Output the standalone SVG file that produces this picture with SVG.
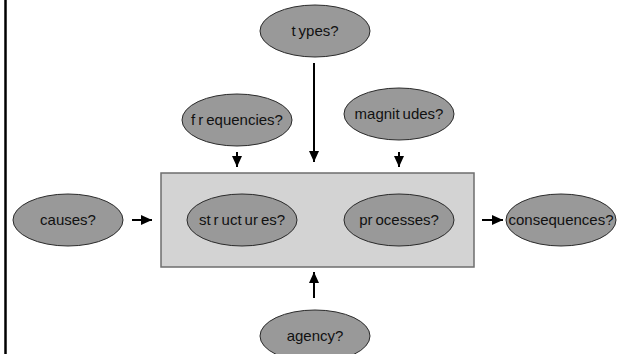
<svg xmlns="http://www.w3.org/2000/svg" width="623" height="354" viewBox="0 0 623 354">
<defs>
<style>
.node ellipse{fill:#999999;stroke:#2a2a2a;stroke-width:1}
.node text{font-family:"Liberation Sans",Arial,sans-serif;font-size:15px;fill:#111;text-anchor:middle}
.conn line{stroke:#000;stroke-width:2}
.head{fill:#000}
</style>
<marker id="ah" markerUnits="userSpaceOnUse" markerWidth="12" markerHeight="12" viewBox="0 0 12 12" refX="11" refY="6" orient="auto">
<path d="M0,1 L11,6 L0,11 Z" class="head"/>
</marker>
</defs>
<rect width="623" height="354" fill="#fff"/>
<line x1="5.5" y1="0" x2="5.5" y2="354" stroke="#000" stroke-width="2.5"/>
<g id="box">
<rect x="161" y="173" width="313" height="94" fill="#d3d3d3" stroke="#6e6e6e" stroke-width="1.5"/>
</g>
<g id="types" class="node"><ellipse cx="315" cy="31" rx="55" ry="26"/><text x="315" y="36">t<tspan dx="3">ypes?</tspan></text></g>
<g id="frequencies" class="node"><ellipse cx="237" cy="120" rx="55" ry="26"/><text x="237" y="125">f<tspan dx="3">r</tspan><tspan dx="3">equencies?</tspan></text></g>
<g id="magnitudes" class="node"><ellipse cx="399" cy="114" rx="55" ry="26"/><text x="399" y="119">magnit<tspan dx="3">udes?</tspan></text></g>
<g id="structures" class="node"><ellipse cx="242" cy="220" rx="55" ry="26"/><text x="242" y="225">st<tspan dx="3">r</tspan><tspan dx="3">uct</tspan><tspan dx="3">ur</tspan><tspan dx="3">es?</tspan></text></g>
<g id="processes" class="node"><ellipse cx="399" cy="220" rx="55" ry="26"/><text x="399" y="225">pr<tspan dx="3">ocesses?</tspan></text></g>
<g id="causes" class="node"><ellipse cx="68" cy="220" rx="55" ry="26"/><text x="68" y="225">causes?</text></g>
<g id="consequences" class="node"><ellipse cx="561" cy="220" rx="55" ry="26"/><text x="561" y="225">consequences?</text></g>
<g id="agency" class="node"><ellipse cx="315" cy="336" rx="55" ry="26"/><text x="315" y="341">agency?</text></g>
<g id="connectors" class="conn">
<line x1="314" y1="63" x2="314" y2="162" marker-end="url(#ah)"/>
<line x1="237" y1="152" x2="237" y2="167" marker-end="url(#ah)"/>
<line x1="399" y1="152" x2="399" y2="167" marker-end="url(#ah)"/>
<line x1="132" y1="220" x2="152" y2="220" marker-end="url(#ah)"/>
<line x1="482" y1="220" x2="503" y2="220" marker-end="url(#ah)"/>
<line x1="314" y1="298" x2="314" y2="272" marker-end="url(#ah)"/>
</g>
</svg>
